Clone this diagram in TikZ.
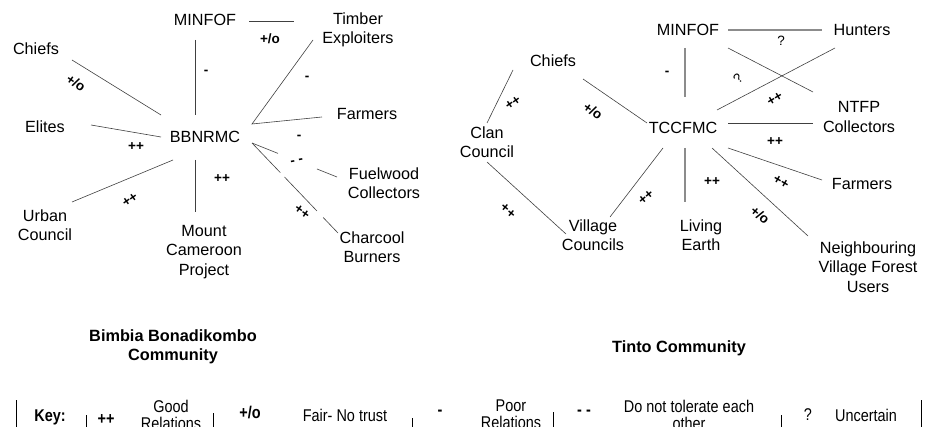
\documentclass[tikz,border=0pt]{standalone}
\usepackage{fontspec}
\setmainfont{Liberation Sans}
\newfontfamily\keyfont[FakeStretch=0.85]{Liberation Sans}
\begin{document}
\begin{tikzpicture}[x=1pt,y=-1pt,
 lbl/.style={font=\fontsize{16.2}{19.5}\selectfont, align=center, inner sep=0pt},
 rel/.style={font=\bfseries\fontsize{13.5}{14}\selectfont, inner sep=0pt},
 con/.style={draw=black!75, line width=0.6pt},
 gcon/.style={draw=black!45, line width=1.3pt},
 ttl/.style={font=\bfseries\fontsize{16.3}{19}\selectfont, align=center, inner sep=0pt},
 keyt/.style={font=\keyfont\fontsize{17}{16.5}\selectfont, align=center, inner sep=0pt},
 keyb/.style={font=\keyfont\bfseries\fontsize{17}{16.5}\selectfont, align=center, inner sep=0pt},
 bar/.style={draw=black, line width=0.9pt}]
\useasboundingbox (0,0) rectangle (928,427);
\clip (0,0) rectangle (928,427);
% ---------------- left diagram ----------------
\node[lbl] (minfofA) at (205,20) {MINFOF};
\node[lbl] (timber) at (358,30) {Timber\\Exploiters};
\node[lbl] (chiefsA) at (36,49) {Chiefs};
\node[lbl] (elites) at (45,127) {Elites};
\node[lbl] (bbn) at (205,137) {BBNRMC};
\node[lbl] (farmersA) at (367,114) {Farmers};
\node[lbl] (fuel) at (384,183) {Fuelwood\\Collectors};
\node[lbl] (charcool) at (372,247) {Charcool\\Burners};
\node[lbl] (urban) at (45,225) {Urban\\Council};
\node[lbl] (mount) at (204,252) {Mount\\Cameroon\\Project};
% connector ends
\coordinate (mAe) at (249,21); \coordinate (timW) at (294,21);
\coordinate (mAs) at (195,40); \coordinate (bbN) at (195,115);
\coordinate (chA) at (72,60); \coordinate (bbNW) at (161,115);
\coordinate (elE) at (91,125); \coordinate (bbW) at (161,137);
\coordinate (urE) at (72,202); \coordinate (bbSW) at (173,160);
\coordinate (bbS) at (195,160); \coordinate (moN) at (195,212);
\coordinate (bbE) at (252,124); \coordinate (timS) at (313,40);
\coordinate (faA) at (322,117);
\coordinate (bbSE) at (252,143); \coordinate (fuW) at (337,177);
\coordinate (chcN) at (338,233);
\draw[con] (mAe) -- (timW);
\draw[con] (mAs) -- (bbN);
\draw[con] (chA) -- (bbNW);
\draw[con] (elE) -- (bbW);
\draw[con] (urE) -- (bbSW);
\draw[con] (bbS) -- (moN);
\draw[con] (timS) -- (bbE) -- (faA);
\draw[con, dash pattern=on 28pt off 42pt on 30pt] (bbSE) -- (fuW);
\draw[con, dash pattern=on 41pt off 6pt on 47pt off 9pt on 30pt] (bbSE) -- (chcN);
% relation labels
\node[rel] (r1) at (270,39) {+/o};
\node[rel] (r2) at (206,72) {-};
\node[rel, rotate=-35] (r3) at (76,83) {+/o};
\node[rel] (r4) at (307,78) {-};
\node[rel] (r5) at (136,147) {++};
\node[rel] (r6) at (299,137) {-};
\node[rel, rotate=10] (r7) at (297,162) {- -};
\node[rel] (r8) at (222,179) {++};
\node[rel, rotate=35] (r9) at (130,200) {++};
\node[rel, rotate=-35] (r10) at (302,212) {++};
% ---------------- right diagram ----------------
\node[lbl] (minfofB) at (688,30) {MINFOF};
\node[lbl] (hunters) at (862,30) {Hunters};
\node[lbl] (chiefsB) at (553,61) {Chiefs};
\node[lbl] (clan) at (487,142) {Clan\\Council};
\node[lbl] (tcc) at (683,128) {TCCFMC};
\node[lbl] (ntfp) at (859,117) {NTFP\\Collectors};
\node[lbl] (farmersB) at (862,184) {Farmers};
\node[lbl] (village) at (593,235) {Village\\Councils};
\node[lbl] (living) at (701,235) {Living\\Earth};
\node[lbl] (neigh) at (868,267) {Neighbouring\\Village Forest\\Users};
\coordinate (mBe) at (728,30); \coordinate (huW) at (822,30);
\coordinate (mBs) at (685,48); \coordinate (tcN) at (685,97);
\coordinate (mBse) at (728,48); \coordinate (ntNW) at (813,92);
\coordinate (huSW) at (835,48); \coordinate (tcNE) at (717,110);
\coordinate (chBse) at (583,79); \coordinate (tcW) at (647,123);
\coordinate (chBsw) at (513,70); \coordinate (clN) at (487,123);
\coordinate (clS) at (487,162); \coordinate (viNW) at (566,234);
\coordinate (viNE) at (610,217); \coordinate (tcSW) at (663,148);
\coordinate (tcS) at (685,148); \coordinate (liN) at (685,202);
\coordinate (tcE) at (728,123); \coordinate (ntW) at (813,123);
\coordinate (tcSE) at (728,148); \coordinate (faBW) at (822,180);
\coordinate (tcSSE) at (712,148); \coordinate (neNW) at (808,236);
\draw[gcon] (mBe) -- (huW);
\draw[gcon] (mBs) -- (tcN);
\draw[con] (mBse) -- (ntNW);
\draw[con] (huSW) -- (tcNE);
\draw[con] (chBse) -- (tcW);
\draw[con] (chBsw) -- (clN);
\draw[con] (clS) -- (viNW);
\draw[con] (viNE) -- (tcSW);
\draw[gcon] (tcS) -- (liN);
\draw[con, line width=0.8pt] (tcE) -- (ntW);
\draw[con] (tcSE) -- (faBW);
\draw[con] (tcSSE) -- (neNW);
\node[font=\fontsize{13.5}{14}\selectfont, inner sep=0pt] (s1) at (781,41) {?};
\node[rel] (s2) at (667,73) {-};
\node[font=\fontsize{13.5}{14}\selectfont, inner sep=0pt, rotate=45] (s3) at (738,79) {?};
\node[rel, rotate=30] (s4) at (775,99) {++};
\node[rel, rotate=35] (s5) at (513,103) {++};
\node[rel, rotate=-35] (s6) at (593,111) {+/o};
\node[rel] (s7) at (775,142) {++};
\node[rel, rotate=-30] (s8) at (781,182) {++};
\node[rel] (s9) at (712,182) {++};
\node[rel, rotate=40] (s10) at (646,197) {++};
\node[rel, rotate=-40] (s11) at (760,215) {+/o};
\node[rel, rotate=-40] (s12) at (508,211) {++};
% ---------------- titles ----------------
\node[ttl] (titA) at (173,347) {Bimbia Bonadikombo\\Community};
\node[ttl] (titB) at (679,348) {Tinto Community};
% ---------------- key ----------------
\draw[bar] (16,400) -- (16,427);
\draw[bar] (921,400) -- (921,427);
\draw[bar] (86,415) -- (86,427);
\draw[bar] (213,413) -- (213,427);
\draw[bar] (412,418) -- (412,427);
\draw[bar] (553,412) -- (553,427);
\draw[bar] (781,415) -- (781,427);
\node[keyb] (k0) at (50,417) {Key:};
\node[keyb] (k1) at (106,420) {++};
\node[keyt] (k2) at (171,415) {Good\\Relations};
\node[keyb] (k3) at (250,413) {+/o};
\node[keyt] (k4) at (345,415) {Fair- No trust};
\node[keyb] (k5) at (440,413) {-};
\node[keyt] (k6) at (511,414) {Poor\\Relations};
\node[keyb] (k7) at (584,413) {- -};
\node[keyt] (k8) at (689,415) {Do not tolerate each\\other};
\node[keyt] (k9) at (808,415) {?};
\node[keyt] (k10) at (866,415) {Uncertain};
\end{tikzpicture}
\end{document}
